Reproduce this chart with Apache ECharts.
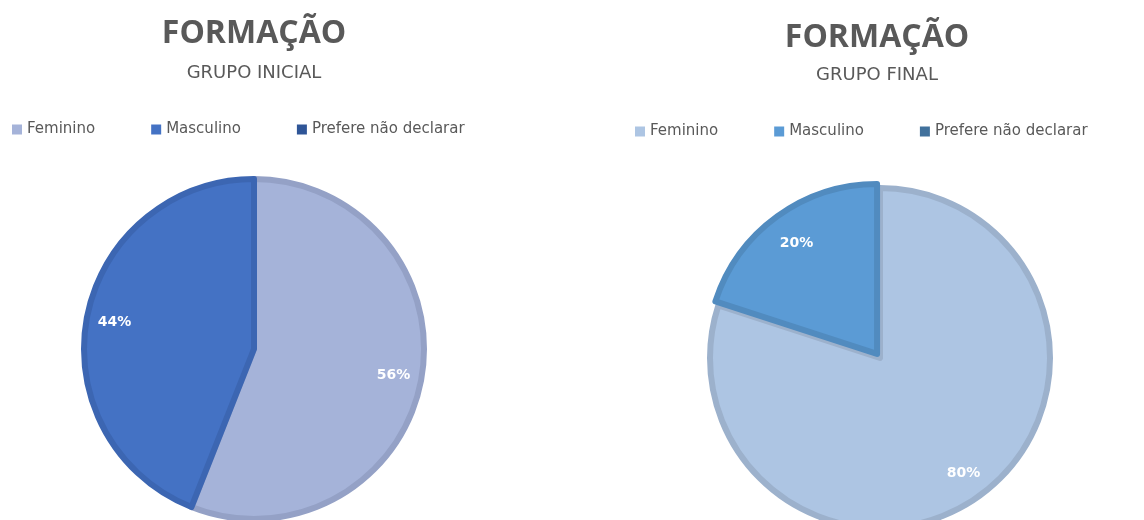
<!DOCTYPE html>
<html>
<head>
<meta charset="utf-8">
<title>Formação</title>
<script src="https://cdn.jsdelivr.net/npm/echarts@6/dist/echarts.min.js"></script>
<style>
html, body { margin: 0; padding: 0; background: #fff; }
#chart { width: 1144px; height: 520px; }
</style>
</head>
<body>
<div id="chart"></div>
<script>
// categorias e valores (%)
const categories = ['Feminino', 'Masculino', 'Prefere não declarar'];
const inicialValues = [56, 44, 0];
const finalValues = [80, 20, 0];

const inicialColors = ['#A5B3D9', '#4472C4', '#2F5597'];
const inicialBorders = ['#94A1C6', '#3C66B2', '#2A4C88'];
const finalColors = ['#ADC5E3', '#5B9BD5', '#41719C'];
const finalBorders = ['#9CB1CC', '#518BBF', '#3A658C'];

const font = 'DejaVu Sans';
const grey = '#595959';

function pieData(values, colors, borders, explode) {
    return categories.map(function (name, i) {
        return {
            name: name,
            value: values[i],
            selected: explode === i,
            itemStyle: {
                color: colors[i],
                borderColor: borders[i],
                borderWidth: values[i] > 0 ? 6 : 0
            }
        };
    });
}

// serie transparente só para posicionar os rótulos perto da borda
function labelData(values) {
    return categories.map(function (name, i) {
        return {
            name: name,
            value: values[i],
            label: { show: values[i] > 0 }
        };
    });
}

function legendData(colors) {
    return categories.map(function (name, i) {
        return { name: name, itemStyle: { color: colors[i], borderWidth: 0 } };
    });
}

function pieSeries(center, values, colors, borders, explode) {
    return [{
        type: 'pie',
        center: center,
        radius: 170,
        startAngle: 90,
        clockwise: true,
        selectedMode: 'single',
        selectedOffset: 5,
        animation: false,
        label: { show: false },
        labelLine: { show: false },
        emphasis: { disabled: true },
        data: pieData(values, colors, borders, explode)
    }, {
        type: 'pie',
        center: center,
        radius: [108, 170],
        startAngle: 90,
        silent: true,
        animation: false,
        itemStyle: { color: 'rgba(0,0,0,0)', borderWidth: 0 },
        label: {
            position: 'inside',
            formatter: '{c}%',
            color: '#fff',
            fontFamily: font,
            fontWeight: 'bold',
            fontSize: 14
        },
        labelLine: { show: false },
        emphasis: { disabled: true },
        data: labelData(values)
    }];
}

let chart = echarts.init(document.getElementById('chart'), null, { renderer: 'canvas' });

let option = {
    backgroundColor: '#fff',
    animation: false,
    title: [{
        text: 'FORMAÇÃO',
        subtext: 'GRUPO INICIAL',
        left: 254,
        top: 18,
        padding: 0,
        itemGap: 14,
        textAlign: 'center',
        textStyle: { fontFamily: 'Open Sans', fontWeight: 'bold', fontSize: 32, color: grey },
        subtextStyle: { fontFamily: font, fontSize: 18, color: grey }
    }, {
        text: 'FORMAÇÃO',
        subtext: 'GRUPO FINAL',
        left: 877,
        top: 22,
        padding: 0,
        itemGap: 12,
        textAlign: 'center',
        textStyle: { fontFamily: 'Open Sans', fontWeight: 'bold', fontSize: 32, color: grey },
        subtextStyle: { fontFamily: font, fontSize: 18, color: grey }
    }],
    legend: [{
        left: 12,
        top: 122,
        padding: 0,
        icon: 'rect',
        itemWidth: 10,
        itemHeight: 10,
        itemGap: 56,
        selectedMode: false,
        itemStyle: { borderWidth: 0 },
        textStyle: { fontFamily: font, fontSize: 15, color: grey },
        data: legendData(inicialColors)
    }, {
        left: 635,
        top: 124,
        padding: 0,
        icon: 'rect',
        itemWidth: 10,
        itemHeight: 10,
        itemGap: 56,
        selectedMode: false,
        itemStyle: { borderWidth: 0 },
        textStyle: { fontFamily: font, fontSize: 15, color: grey },
        data: legendData(finalColors)
    }],
    series: pieSeries([254, 349], inicialValues, inicialColors, inicialBorders, -1)
        .concat(pieSeries([880, 358], finalValues, finalColors, finalBorders, 1))
};

chart.setOption(option);
</script>
</body>
</html>
